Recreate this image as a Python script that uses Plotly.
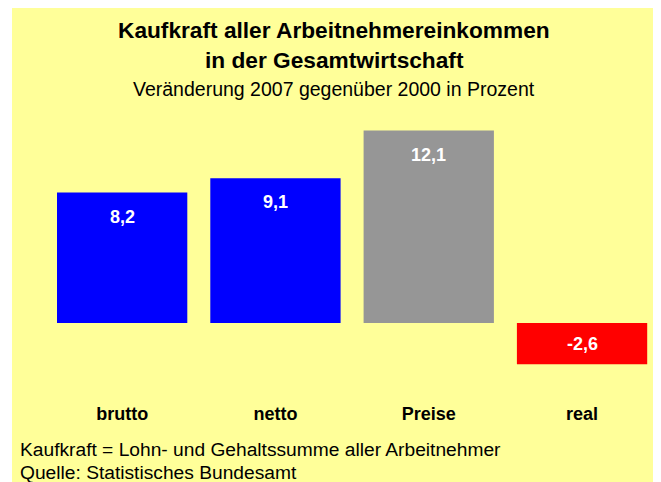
import plotly.graph_objects as go

categories = ["brutto", "netto", "Preise", "real"]
values = [8.2, 9.1, 12.1, -2.6]
value_labels = ["8,2", "9,1", "12,1", "-2,6"]
bar_colors = ["#0000FF", "#0000FF", "#969696", "#FF0000"]

title_line1 = "Kaufkraft aller Arbeitnehmereinkommen"
title_line2 = "in der Gesamtwirtschaft"
subtitle = "Veränderung 2007 gegenüber 2000 in Prozent"
footnote1 = "Kaufkraft = Lohn- und Gehaltssumme aller Arbeitnehmer"
footnote2 = "Quelle: Statistisches Bundesamt"

# page has an 8px body margin; figure is sized to fill the rest of the window
OFF = 8
W, H = 661 - OFF, 482 - OFF
FONT = "Liberation Sans, Arial, sans-serif"


def fx(xpx):
    return (xpx - OFF) / W


def fy(ypx):
    return 1 - (ypx - OFF) / H


fig = go.Figure(go.Bar(
    x=categories, y=values, marker=dict(color=bar_colors, line=dict(width=0)),
    hoverinfo="skip",
))

annotations = []
for c, v, t in zip(categories, values, value_labels):
    if v >= 0:
        annotations.append(dict(x=c, y=v, text=f"<b>{t}</b>", showarrow=False,
                                yanchor="middle", yshift=-24,
                                font=dict(family=FONT, size=18, color="white")))
    else:
        annotations.append(dict(x=c, y=v / 2, text=f"<b>{t}</b>", showarrow=False,
                                yanchor="middle",
                                font=dict(family=FONT, size=18, color="white")))

annotations += [
    dict(xref="paper", yref="paper", x=fx(334), y=fy(30), text=f"<b>{title_line1}</b>",
         showarrow=False, xanchor="center", yanchor="middle",
         font=dict(family=FONT, size=22.7, color="black")),
    dict(xref="paper", yref="paper", x=fx(334), y=fy(60), text=f"<b>{title_line2}</b>",
         showarrow=False, xanchor="center", yanchor="middle",
         font=dict(family=FONT, size=22.7, color="black")),
    dict(xref="paper", yref="paper", x=fx(334), y=fy(89), text=subtitle,
         showarrow=False, xanchor="center", yanchor="middle",
         font=dict(family=FONT, size=19.5, color="black")),
    dict(xref="paper", yref="paper", x=fx(18), y=fy(449), text=footnote1,
         showarrow=False, xanchor="left", yanchor="middle",
         font=dict(family=FONT, size=19.2, color="black")),
    dict(xref="paper", yref="paper", x=fx(18), y=fy(472), text=footnote2,
         showarrow=False, xanchor="left", yanchor="middle",
         font=dict(family=FONT, size=19.2, color="black")),
]

fig.update_layout(
    width=W, height=H, autosize=False,
    margin=dict(l=0, r=0, t=0, b=0, pad=0),
    paper_bgcolor="#FFFF99", plot_bgcolor="rgba(0,0,0,0)",
    bargap=0.15, showlegend=False,
    shapes=[dict(type="rect", xref="paper", yref="paper", x0=0, x1=fx(12),
                 y0=0, y1=1, fillcolor="white", line=dict(width=0), layer="below")],
    annotations=annotations,
    xaxis=dict(domain=[fx(45.5), fx(658.7)], showgrid=False, zeroline=False, showline=False,
               ticks="", tickfont=dict(family=FONT, size=18, color="black"),
               tickprefix="<b>", ticksuffix="</b>", ticklabelstandoff=6),
    yaxis=dict(domain=[fy(395), fy(110)], range=[-(395 - 323) / 15.9, (323 - 110) / 15.9],
               showgrid=False, zeroline=False, showline=False, showticklabels=False, ticks=""),
)

fig.write_html("out.html")
